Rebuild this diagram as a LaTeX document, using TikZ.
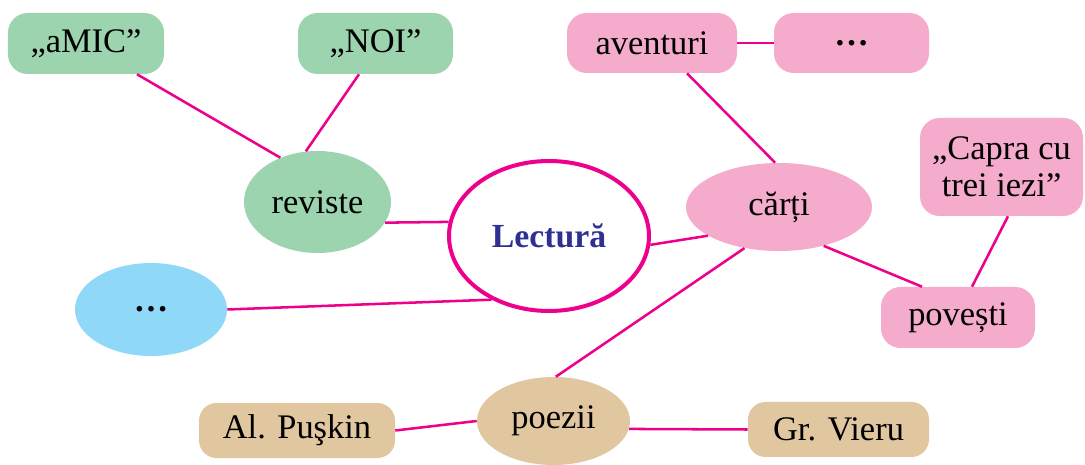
\documentclass[tikz,border=0pt]{standalone}
\usepackage{fontspec}
\setmainfont{Liberation Serif}
\usepackage{xcolor}
\usepackage{tikz}
\usetikzlibrary{shapes.geometric}
\definecolor{linkpink}{HTML}{EC008C}
\definecolor{mintgreen}{HTML}{9DD4B0}
\definecolor{rosepink}{HTML}{F5ABCB}
\definecolor{skyblue}{HTML}{8FD8F7}
\definecolor{sandtan}{HTML}{E0C7A0}
\definecolor{titleblue}{HTML}{2E3192}

\begin{document}
\begin{tikzpicture}[
  font=\fontsize{24.5}{26.5}\selectfont,
  rbox/.style={rounded corners=14pt, inner sep=0pt, align=center, minimum height=15.25mm},
  sbox/.style={rounded corners=12.5pt, inner sep=0pt, align=center, minimum height=13.75mm},
  oval/.style={ellipse, inner sep=0pt},
  mag/.style={fill=mintgreen},
  bk/.style={fill=rosepink},
  poem/.style={fill=sandtan},
  link/.style={draw=linkpink, line width=1.8pt},
]
\useasboundingbox (0,0) rectangle (27.125,11.6);
% ---------------- centre ----------------
\node[oval, draw=linkpink, line width=2.85pt, minimum width=5cm, minimum height=3.75cm,
  text=titleblue, font=\fontsize{24}{26.5}\selectfont\bfseries] (lectura) at (13.725,5.7) {Lectură};
% ---------------- reviste ----------------
\node[oval, mag, minimum width=3.675cm, minimum height=2.55cm] (reviste) at (7.9375,6.55) {reviste};
\node[rbox, mag, minimum width=3.9cm] (amic) at (2.15,10.5125) {„aMIC”};
\node[rbox, mag, minimum width=3.875cm] (noi) at (9.3875,10.5125) {„NOI”};
% ---------------- carti ----------------
\node[oval, bk, minimum width=4.65cm, minimum height=2.2cm] (carti) at (19.475,6.425) {cărți};
\node[rbox, bk, minimum width=4.25cm, minimum height=15mm] (aventuri) at (16.3,10.525) {aventuri};
\node[rbox, bk, minimum width=3.875cm, minimum height=15mm] (maicarti) at (21.2875,10.525) {\textbf{…}};
\node[rbox, bk, minimum width=3.85cm] (povesti) at (23.95,3.6625) {povești};
\node[rbox, bk, minimum width=4.075cm, minimum height=2.45cm] (capra) at (25.0375,7.425) {„Capra cu\\trei iezi”};
% ---------------- alte ----------------
\node[oval, fill=skyblue, minimum width=3.8cm, minimum height=2.325cm] (altele) at (3.775,3.8625) {\textbf{…}};
% ---------------- poezii ----------------
\node[oval, poem, minimum width=3.825cm, minimum height=2.2cm] (poezii) at (13.8375,1.075) {poezii};
\node[sbox, poem, minimum width=4.9cm] (puskin) at (7.425,0.8375) {Al. Puşkin};
\node[sbox, poem, minimum width=4.525cm] (vieru) at (20.9625,0.8625) {Gr. Vieru};
% ---------------- links ----------------
\draw[link] (reviste.-17.5) -- (lectura.172.7);
\draw[link] ([xshift=1.275cm]amic.south) -- (reviste.130);
\draw[link] ([xshift=-0.4125cm]noi.south) -- (reviste.103);
\draw[link] (altele.0) -- (lectura.228);
\draw[link] (lectura.-5.7) -- (carti.202.5);
\draw[link] ([xshift=0.875cm]aventuri.south) -- (carti.95);
\draw[link] (aventuri.east) -- (maicarti.west);
\draw[link] (carti.-41.5) -- ([xshift=-0.9cm]povesti.north);
\draw[link] ([xshift=0.1625cm]capra.south) -- ([xshift=0.35cm]povesti.north);
\draw[link] (carti.230) -- (poezii.87);
\draw[link] (puskin.east) -- (poezii.180);
\draw[link] (poezii.-6) -- (vieru.west);
\end{tikzpicture}
\end{document}
